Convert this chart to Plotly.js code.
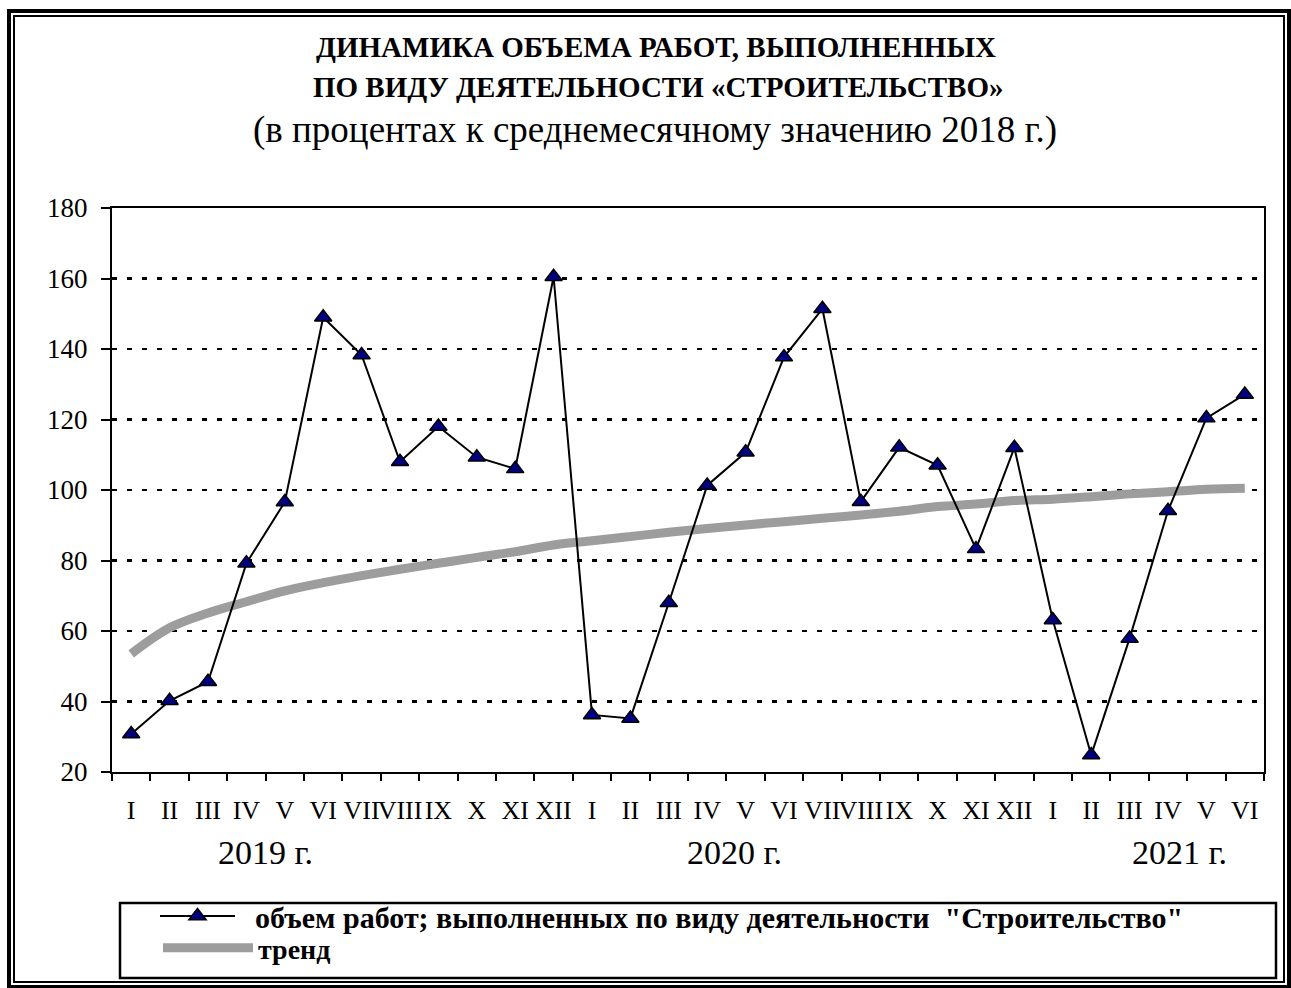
<!DOCTYPE html>
<html><head><meta charset="utf-8">
<script src="https://cdn.plot.ly/plotly-3.0.1.min.js"></script>
<style>
body{margin:0;background:#fff;}
#chart{width:1291px;height:988px;}
.fr{position:absolute;pointer-events:none;box-sizing:border-box;}
</style></head><body>
<div id="chart"></div>
<div class="fr" style="left:7px;top:9px;width:1284px;height:980px;border:4px solid #000;"></div>
<div class="fr" style="left:13px;top:15px;width:1272px;height:968px;border:2px solid #000;"></div>
<script>
// ---- data ----
const months = ["I","II","III","IV","V","VI","VII","VIII","IX","X","XI","XII",
                "I","II","III","IV","V","VI","VII","VIII","IX","X","XI","XII",
                "I","II","III","IV","V","VI"];
const volume = [30.8, 40.2, 45.6, 79.2, 96.6, 149.0, 138.3, 108.0, 118.0, 109.3, 106.0, 160.5,
                36.2, 35.2, 68.0, 101.3, 110.7, 137.7, 151.4, 96.7, 112.1, 107.0, 83.3, 112.0,
                63.1, 24.8, 57.9, 94.1, 120.4, 127.1];
const trend = [53.5, 60.9, 65.1, 68.3, 71.4, 73.7, 75.7, 77.5, 79.2, 80.9, 82.5, 84.4,
               85.6, 86.8, 88.0, 89.1, 90.1, 91.0, 92.0, 92.9, 94.0, 95.3, 96.0, 97.0,
               97.4, 98.1, 98.9, 99.5, 100.2, 100.5];
const yearLabels = ["2019 г.", "2020 г.", "2021 г."];
const yearPos = [3.5, 15.7, 27.3];
const seriesName = "объем работ; выполненных по виду деятельности  \"Строительство\"";
const trendName = "тренд";
const titleLine1 = "ДИНАМИКА ОБЪЕМА РАБОТ, ВЫПОЛНЕННЫХ";
const titleLine2 = "ПО ВИДУ ДЕЯТЕЛЬНОСТИ «СТРОИТЕЛЬСТВО»";
const subtitle = "(в процентах к среднемесячному значению 2018 г.)";

// ---- layout helpers (pixel -> paper) ----
const L = 112, T = 208, W = 1152, H = 564;
const px = x => (x - L) / W;
const py = y => (T + H - y) / H;
const idx = months.map((_, i) => i);
const FONT = "Liberation Serif";
const NB = "\u00a0\u00a0";

const traces = [
  {x: idx, y: trend, mode: "lines", name: trendName, legend: "legend2",
   line: {color: "#9d9d9d", width: 9, shape: "spline"}, hoverinfo: "skip"},
  {x: idx, y: volume, mode: "lines+markers", name: NB + seriesName.replace("  ", "\u00a0 "), legend: "legend",
   line: {color: "#000", width: 2},
   marker: {symbol: "triangle-up", size: 15, color: "#000080", line: {color: "#000", width: 1.5}}}
];

const layout = {
  width: 1291, height: 988,
  margin: {l: L, r: 1291 - L - W, t: T, b: 988 - T - H, pad: 0},
  paper_bgcolor: "#fff", plot_bgcolor: "#fff",
  font: {family: FONT, color: "#000", size: 26},
  showlegend: true,
  xaxis: {
    range: [-0.5, idx.length - 0.5], tickmode: "array", tickvals: idx, ticktext: months,
    tickangle: 0, ticks: "", showgrid: false, zeroline: false,
    showline: true, linecolor: "#000", linewidth: 2, mirror: true,
    tickfont: {family: FONT, size: 26, color: "#000"}, ticklabelstandoff: 14,
    minor: {ticks: "outside", tick0: -0.5, dtick: 1, ticklen: 7, tickwidth: 2, tickcolor: "#000", showgrid: false}
  },
  yaxis: {
    range: [20, 180], tick0: 20, dtick: 20, zeroline: false,
    showgrid: true, gridcolor: "#000", gridwidth: 2.5, griddash: "5px,10px",
    showline: true, linecolor: "#000", linewidth: 2, mirror: true,
    ticks: "outside", ticklen: 9, tickwidth: 2, tickcolor: "#000",
    tickfont: {family: FONT, size: 27, color: "#000"}, ticklabelstandoff: 8
  },
  legend: {x: px(155), y: py(916), xanchor: "left", yanchor: "middle",
           bgcolor: "rgba(0,0,0,0)", borderwidth: 0, itemwidth: 75,
           font: {family: FONT, size: 30, color: "#000", weight: "bold"}},
  legend2: {x: px(158), y: py(948), xanchor: "left", yanchor: "middle",
           bgcolor: "rgba(0,0,0,0)", borderwidth: 0, itemwidth: 90,
           font: {family: FONT, size: 28, color: "#000", weight: "bold"}},
  shapes: [
    {type: "rect", xref: "paper", yref: "paper", x0: px(120), x1: px(1276), y0: py(978), y1: py(903),
     line: {color: "#000", width: 2.5}, fillcolor: "rgba(0,0,0,0)"}
  ],
  annotations: [
    {text: "<b>" + titleLine1 + "</b>", xref: "paper", yref: "paper", x: px(656), y: py(47),
     showarrow: false, xanchor: "center", yanchor: "middle", font: {family: FONT, size: 29}},
    {text: "<b>" + titleLine2 + "</b>", xref: "paper", yref: "paper", x: px(658), y: py(87),
     showarrow: false, xanchor: "center", yanchor: "middle", font: {family: FONT, size: 29}},
    {text: subtitle, xref: "paper", yref: "paper", x: px(655), y: py(130),
     showarrow: false, xanchor: "center", yanchor: "middle", font: {family: FONT, size: 37}}
  ].concat(yearLabels.map((t, i) => ({
     text: t, xref: "x", yref: "paper", x: yearPos[i], y: py(852),
     showarrow: false, xanchor: "center", yanchor: "middle", font: {family: FONT, size: 34}})))
};

Plotly.newPlot("chart", traces, layout, {displayModeBar: false, staticPlot: true});
</script>
</body></html>
